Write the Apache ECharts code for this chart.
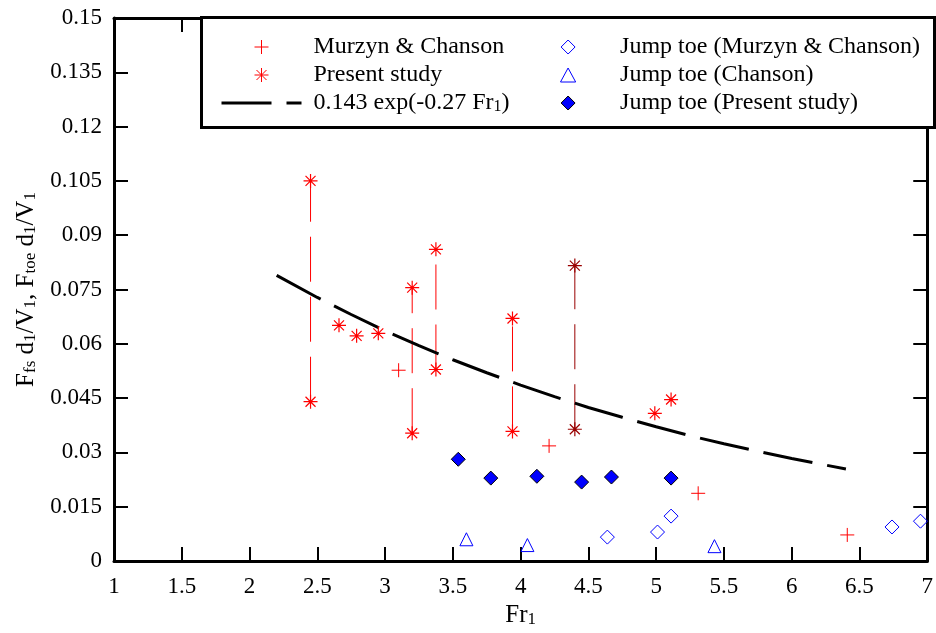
<!DOCTYPE html>
<html>
<head>
<meta charset="utf-8">
<script src="https://cdn.jsdelivr.net/npm/echarts@6/dist/echarts.min.js"></script>
<style>html,body{margin:0;padding:0;background:#fff;}#c{width:936px;height:633px;}</style>
</head>
<body>
<div id="c"></div>
<script>
// ---- data ----
const murzynFr  = [3.10, 4.21, 5.31, 6.41];
const murzynVal = [0.0527, 0.0318, 0.0187, 0.0072];

const presentFr  = [2.45, 2.45, 2.66, 2.79, 2.95, 3.20, 3.20, 3.375, 3.375, 3.94, 3.94, 4.99, 5.11];
const presentVal = [0.105, 0.0440, 0.0651, 0.0622, 0.0629, 0.0755, 0.0353, 0.0861, 0.0529, 0.0670, 0.0358, 0.0408, 0.0446];
const presentDarkFr  = [4.40, 4.40];
const presentDarkVal = [0.0816, 0.0364];

// vertical range lines (low -> high)
const rangeFr   = [2.45, 3.20, 3.375, 3.94, 4.40];
const rangeLow  = [0.0440, 0.0353, 0.0529, 0.0358, 0.0364];
const rangeHigh = [0.105, 0.0755, 0.0861, 0.0670, 0.0816];
const rangeDark = [false, false, false, false, true];

const fitFr  = [2.2, 2.5, 2.75, 3.0, 3.25, 3.5, 3.75, 4.0, 4.25, 4.5, 4.75, 5.0, 5.25, 5.5, 5.75, 6.0, 6.25, 6.4];
const fitVal = [0.0789, 0.0728, 0.0681, 0.0636, 0.0595, 0.0556, 0.0520, 0.0486, 0.0454, 0.0424, 0.0397, 0.0371, 0.0346, 0.0324, 0.0303, 0.0283, 0.0265, 0.0254];

const toeMCFr  = [4.64, 5.01, 5.11, 6.74, 6.95];
const toeMCVal = [0.0066, 0.0080, 0.0124, 0.0094, 0.0110];

const toeChFr  = [3.60, 4.05, 5.43];
const toeChVal = [0.0060, 0.0044, 0.0041];

const toePSFr  = [3.54, 3.78, 4.12, 4.45, 4.67, 5.11];
const toePSVal = [0.0281, 0.0229, 0.0234, 0.0218, 0.0232, 0.0229];

const names = {
  mc: 'Murzyn & Chanson',
  ps: 'Present study',
  fit: '0.143 exp(-0.27 Fr1)',
  toeMC: 'Jump toe (Murzyn & Chanson)',
  toeCh: 'Jump toe (Chanson)',
  toePS: 'Jump toe (Present study)'
};

// ---- helpers ----
const pairs = (xs, ys) => xs.map((x, i) => [x, ys[i]]);
const FONT = 'Liberation Serif';
const FS = 23;
const LFS = 24;
const NFS = 25;
const RED = '#ff0000';
const DARK = '#990000';
const BLUE = '#0000ff';
const PLUS = 'path://M0,-7L0,7M-7,0L7,0';
const STAR = 'path://M0,-7L0,7M-7,0L7,0M-5,-5L5,5M-5,5L5,-5';
const DIAM = 'path://M0,-7L7,0L0,7L-7,0Z';
const TRI  = 'path://M0,0L6.5,12L-6.5,12Z';

const series = [];
rangeFr.forEach((x, i) => {
  series.push({
    type: 'line', xAxisIndex: 0, yAxisIndex: 0, silent: true, symbol: 'none', z: 1,
    data: [[x, rangeLow[i]], [x, rangeHigh[i]]],
    lineStyle: { color: rangeDark[i] ? DARK : RED, width: 1, type: [45, 15] }
  });
});
series.push({
  name: names.mc, type: 'scatter', symbol: PLUS, symbolSize: 14, z: 3,
  data: pairs(murzynFr, murzynVal),
  itemStyle: { color: 'none', borderColor: RED, borderWidth: 1, opacity: 1 }
});
series.push({
  name: names.ps, type: 'scatter', symbol: STAR, symbolSize: 14, z: 3,
  data: pairs(presentFr, presentVal),
  itemStyle: { color: 'none', borderColor: RED, borderWidth: 1.2, opacity: 1 }
});
series.push({
  name: names.ps, type: 'scatter', symbol: STAR, symbolSize: 14, z: 3,
  data: pairs(presentDarkFr, presentDarkVal),
  itemStyle: { color: 'none', borderColor: DARK, borderWidth: 1.2, opacity: 1 }
});
series.push({
  name: names.fit, type: 'line', symbol: 'none', showSymbol: false, z: 2, silent: true,
  data: pairs(fitFr, fitVal),
  itemStyle: { color: '#000' },
  lineStyle: { color: '#000', width: 3, type: [50, 15] }
});
series.push({
  name: names.toeMC, type: 'scatter', symbol: DIAM, symbolSize: 14, z: 3,
  data: pairs(toeMCFr, toeMCVal),
  itemStyle: { color: 'none', borderColor: BLUE, borderWidth: 1, opacity: 1 }
});
series.push({
  name: names.toeCh, type: 'scatter', symbol: TRI, symbolSize: 13, z: 3,
  data: pairs(toeChFr, toeChVal),
  itemStyle: { color: 'none', borderColor: BLUE, borderWidth: 1, opacity: 1 }
});
series.push({
  name: names.toePS, type: 'scatter', symbol: DIAM, symbolSize: 14, z: 3,
  data: pairs(toePSFr, toePSVal),
  itemStyle: { color: BLUE, borderColor: '#000', borderWidth: 1, opacity: 1 }
});

const nrich = {
  a: { fontFamily: FONT, fontSize: NFS, color: '#000', lineHeight: 26, verticalAlign: 'bottom' },
  s: { fontFamily: FONT, fontSize: 17, color: '#000', lineHeight: 13, verticalAlign: 'bottom' }
};
const rich = {
  t: { fontFamily: FONT, fontSize: FS, color: '#000' }
};
const lrich = {
  a: { fontFamily: FONT, fontSize: LFS, color: '#000', lineHeight: 24, verticalAlign: 'bottom' },
  s: { fontFamily: FONT, fontSize: 16, color: '#000', lineHeight: 12, verticalAlign: 'bottom' },
  t: { fontFamily: FONT, fontSize: LFS, color: '#000' }
};
const axisCommon = {
  axisLine: { show: true, onZero: false, lineStyle: { color: '#000', width: 3 } },
  axisTick: { show: true, inside: true, length: 14, lineStyle: { color: '#000', width: 2 } },
  splitLine: { show: false }
};
const tickLabel = (margin) => ({
  fontFamily: FONT, fontSize: FS, color: '#000', margin: margin,
  formatter: v => '{t|' + v + '}', rich: rich
});
const legendCommon = {
  orient: 'vertical', top: 35, padding: 0, itemGap: 4, itemWidth: 80, itemHeight: 14,
  selectedMode: false, z: 20,
  itemStyle: { borderWidth: 1, opacity: 1 },
  lineStyle: { width: 3 },
  textStyle: { fontFamily: FONT, fontSize: LFS, color: '#000', padding: [0, 0, 0, 7], rich: lrich },
  formatter: n => n === names.fit ? '{a|0.143 exp(-0.27 Fr}{s|1}{a|)}' : '{t|' + n + '}'
};

const option = {
  animation: false,
  backgroundColor: '#fff',
  textStyle: { fontFamily: FONT },
  grid: { left: 114, right: 6, top: 18, bottom: 71, containLabel: false },
  xAxis: [
    Object.assign({}, axisCommon, {
      type: 'value', position: 'bottom', min: 1, max: 7, interval: 0.5,
      axisLabel: tickLabel(14),
      name: '{a|Fr}{s|1}', nameLocation: 'middle', nameGap: 41,
      nameTextStyle: { fontFamily: FONT, rich: nrich }
    }),
    Object.assign({}, axisCommon, {
      type: 'value', position: 'top', min: 1, max: 7, interval: 0.5,
      axisLabel: { show: false }
    })
  ],
  yAxis: [
    Object.assign({}, axisCommon, {
      type: 'value', position: 'left', min: 0, max: 0.15, interval: 0.015,
      axisLabel: tickLabel(12),
      name: '{a|F}{s|fs}{a| d}{s|1}{a|/V}{s|1}{a|, F}{s|toe}{a| d}{s|1}{a|/V}{s|1}',
      nameLocation: 'middle', nameRotate: 90, nameGap: 75,
      nameTextStyle: { fontFamily: FONT, rich: nrich }
    }),
    Object.assign({}, axisCommon, {
      type: 'value', position: 'right', min: 0, max: 0.15, interval: 0.015,
      axisLabel: { show: false }
    })
  ],
  graphic: [{
    type: 'rect', z: 10, silent: true,
    shape: { x: 201.5, y: 17.5, width: 733, height: 110 },
    style: { fill: '#fff', stroke: '#000', lineWidth: 3 }
  }],
  legend: [
    Object.assign({}, legendCommon, {
      left: 220,
      data: [names.mc, names.ps,
        { name: names.fit, itemStyle: { color: 'rgba(0,0,0,0)', borderColor: 'rgba(0,0,0,0)', borderWidth: 0 } }]
    }),
    Object.assign({}, legendCommon, { left: 558, data: [names.toeMC, names.toeCh, names.toePS] })
  ],
  series: series
};

const chart = echarts.init(document.getElementById('c'), null, { renderer: 'canvas' });
chart.setOption(option);
</script>
</body>
</html>
